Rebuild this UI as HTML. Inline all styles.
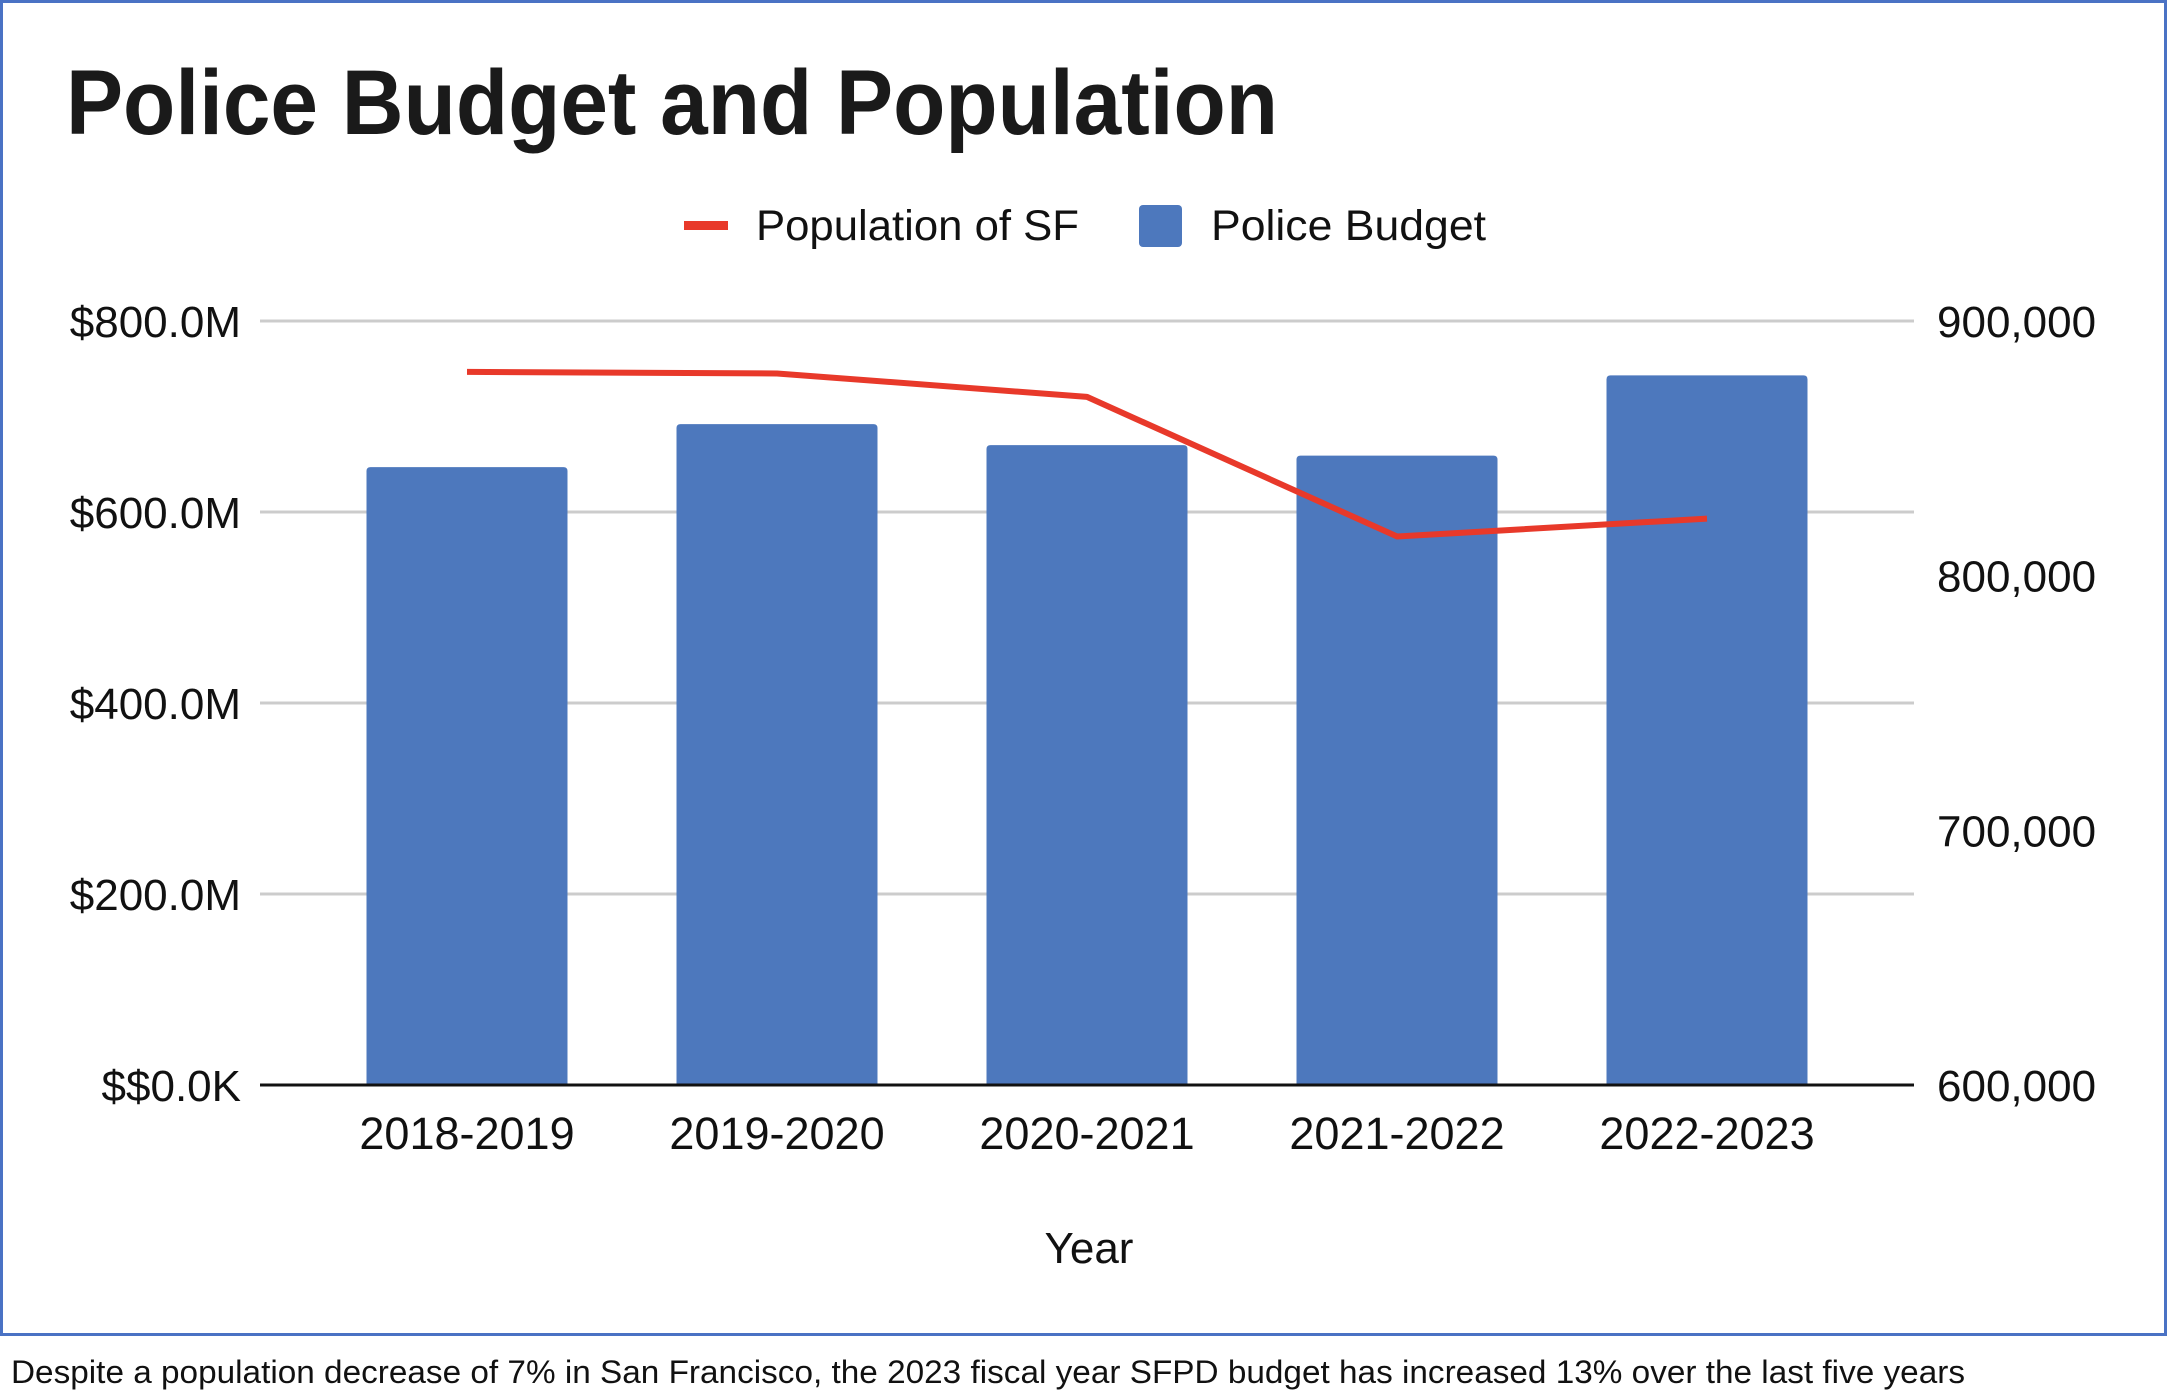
<!DOCTYPE html>
<html><head><meta charset="utf-8"><style>
html,body{margin:0;padding:0;background:#fff;}
svg{display:block;font-family:"Liberation Sans",Arial,sans-serif;}
</style></head><body>
<svg id="chart" width="2167" height="1392" viewBox="0 0 2167 1392" xmlns="http://www.w3.org/2000/svg">
<rect x="1.5" y="1.5" width="2164" height="1333" fill="#fff" stroke="#4a72c4" stroke-width="3"/>
<text x="66" y="134" font-size="92" font-weight="bold" fill="#1a1a1a" textLength="1212" lengthAdjust="spacingAndGlyphs">Police Budget and Population</text>
<g>
<rect x="684" y="221" width="44" height="9" fill="#e8392a"/>
<text x="756" y="240" font-size="43" fill="#111" textLength="323" lengthAdjust="spacingAndGlyphs">Population of SF</text>
<rect x="1139" y="205" width="43" height="42" rx="4" fill="#4d78bd"/>
<text x="1211" y="240" font-size="43" fill="#111" textLength="275" lengthAdjust="spacingAndGlyphs">Police Budget</text>
</g>
<g id="grid"></g><g id="bars"></g><g id="line"></g><g id="labels"></g>
<text x="1089" y="1263" font-size="44" text-anchor="middle" fill="#111">Year</text>
<text x="11" y="1383" font-size="32" fill="#111" textLength="1954" lengthAdjust="spacingAndGlyphs">Despite a population decrease of 7% in San Francisco, the 2023 fiscal year SFPD budget has increased 13% over the last five years</text>
</svg>
<script>
const categories = ["2018-2019","2019-2020","2020-2021","2021-2022","2022-2023"];
const budgetM = [647, 692, 670, 659, 743];
const population = [880000, 879400, 870200, 815400, 822400];
const leftTicks = [0, 200, 400, 600, 800];
const leftTickLabels = ["$$0.0K","$200.0M","$400.0M","$600.0M","$800.0M"];
const rightTicks = [600000, 700000, 800000, 900000];
const rightTickLabels = ["600,000","700,000","800,000","900,000"];

const NS = "http://www.w3.org/2000/svg";
const plotTop = 321, plotBottom = 1085, plotLeft = 260, plotRight = 1914;
const yL = v => plotBottom - (v/800)*(plotBottom-plotTop);
const yR = v => plotBottom - ((v-600000)/300000)*(plotBottom-plotTop);
const xC = i => 467 + i*310;
const barW = 201;
function mk(tag, attrs, parent){const e=document.createElementNS(NS,tag);for(const k in attrs)e.setAttribute(k,attrs[k]);parent.appendChild(e);return e;}
const grid=document.getElementById('grid'), bars=document.getElementById('bars'), lineG=document.getElementById('line'), labels=document.getElementById('labels');
leftTicks.forEach((t,i)=>{
  if(t!==0){const g=mk('line',{x1:plotLeft,x2:plotRight,y1:yL(t),y2:yL(t),stroke:'#cccccc','stroke-width':3},grid);
  
  }
  const tx=mk('text',{x:241,y:yL(t)+16,'font-size':44,'text-anchor':'end',fill:'#111'},labels);
  tx.textContent=leftTickLabels[i];
  
  
});
rightTicks.forEach((t,i)=>{
  const tx=mk('text',{x:1937,y:yR(t)+16,'font-size':44,fill:'#111'},labels);
  tx.textContent=rightTickLabels[i];
  
  
});
budgetM.forEach((v,i)=>{
  const top=yL(v);
  const p=mk('path',{d:`M${xC(i)-barW/2},${plotBottom}V${top+4}q0,-4 4,-4H${xC(i)+barW/2-4}q4,0 4,4V${plotBottom}Z`,fill:'#4d78bd'},bars);
  
  
  const tx=mk('text',{x:xC(i),y:1149,'font-size':45,'text-anchor':'middle',fill:'#111'},labels);
  tx.textContent=categories[i];
  
  
});
const base=mk('line',{x1:plotLeft,x2:plotRight,y1:plotBottom,y2:plotBottom,stroke:'#111','stroke-width':3},grid.parentNode);


const pl=mk('polyline',{points:population.map((v,i)=>xC(i)+','+yR(v)).join(' '),fill:'none',stroke:'#e8392a','stroke-width':6,'stroke-linejoin':'round'},lineG);


</script>
</body></html>
